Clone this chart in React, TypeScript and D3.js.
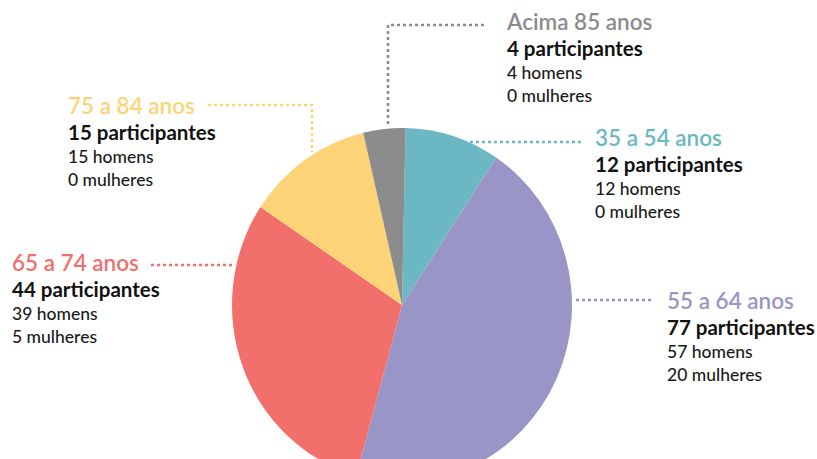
import React, { useEffect, useRef } from 'react';
import * as d3 from 'd3';

// faixas etárias, em ordem horária a partir do topo
const faixas = ['35 a 54 anos', '55 a 64 anos', '65 a 74 anos', '75 a 84 anos', 'Acima 85 anos'];
const participantes = [12, 77, 44, 15, 4];
const homens = [12, 57, 39, 15, 4];
const mulheres = [0, 20, 5, 0, 0];
// fatia do gráfico (%)
const fatias = [9, 45, 30, 12, 4];
const cores = ['#6bb8c4', '#9a95c7', '#f2706b', '#fdd378', '#8c8c8c'];

// posição dos rótulos e das linhas pontilhadas
const rotulos = [
  { x: 595, y: 146, line: [[470, 142], [584, 142]] },
  { x: 667, y: 309, line: [[576, 300], [651, 300]] },
  { x: 12, y: 271, line: [[151, 265], [233, 265]] },
  { x: 68, y: 114, line: [[208, 105], [312, 105], [312, 152]] },
  { x: 507, y: 30, line: [[388, 124], [388, 25], [487, 25]] },
];

const FONT = 'Lato, sans-serif';

const App: React.FC = () => {
  const svgRef = useRef<SVGSVGElement>(null);

  useEffect(() => {
    if (!svgRef.current) return;
    const svg = d3.select(svgRef.current);
    svg.selectAll('*').remove();

    const width = 817;
    const height = 459;
    const cx = 402;
    const cy = 305;
    const r = 170;
    const ry = 177;

    svg.attr('width', width).attr('height', height);

    const pie = d3.pie<number>()
      .sort(null)
      .startAngle((1.2 * Math.PI) / 180)
      .endAngle(((1.2 + 360) * Math.PI) / 180);
    const arc = d3.arc<d3.PieArcDatum<number>>().innerRadius(0).outerRadius(r);

    svg.append('g')
      .attr('transform', `translate(${cx},${cy}) scale(1,${ry / r})`)
      .selectAll('path')
      .data(pie(fatias))
      .join('path')
      .attr('d', arc)
      .attr('fill', (_, i) => cores[i]);

    // linhas pontilhadas
    const line = d3.line();
    svg.append('g')
      .selectAll('path')
      .data(rotulos)
      .join('path')
      .attr('d', d => line(d.line as [number, number][]))
      .attr('fill', 'none')
      .attr('stroke', (_, i) => cores[i])
      .attr('stroke-width', 2.5)
      .attr('stroke-dasharray', '3,3');

    const g = svg.append('g').attr('font-family', FONT);
    faixas.forEach((f, i) => {
      const { x, y } = rotulos[i];
      const t = g.append('g').attr('transform', `translate(${x},${y})`);
      t.append('text')
        .attr('font-size', 22.5)
        .attr('font-weight', 600)
        .attr('fill', cores[i])
        .text(f);
      t.append('text')
        .attr('y', 25.5)
        .attr('font-size', 20.5)
        .attr('font-weight', 'bold')
        .attr('fill', '#111')
        .text(`${participantes[i]} participantes`);
      t.append('text')
        .attr('y', 48.5)
        .attr('font-size', 17.5)
        .attr('font-weight', 500)
        .attr('fill', '#1a1a1a')
        .text(`${homens[i]} homens`);
      t.append('text')
        .attr('y', 71.5)
        .attr('font-size', 17.5)
        .attr('font-weight', 500)
        .attr('fill', '#1a1a1a')
        .text(`${mulheres[i]} mulheres`);
    });
  }, []);

  return (
    <svg ref={svgRef} style={{ position: 'absolute', left: 0, top: 0, background: '#fff' }} />
  );
};

export default App;
